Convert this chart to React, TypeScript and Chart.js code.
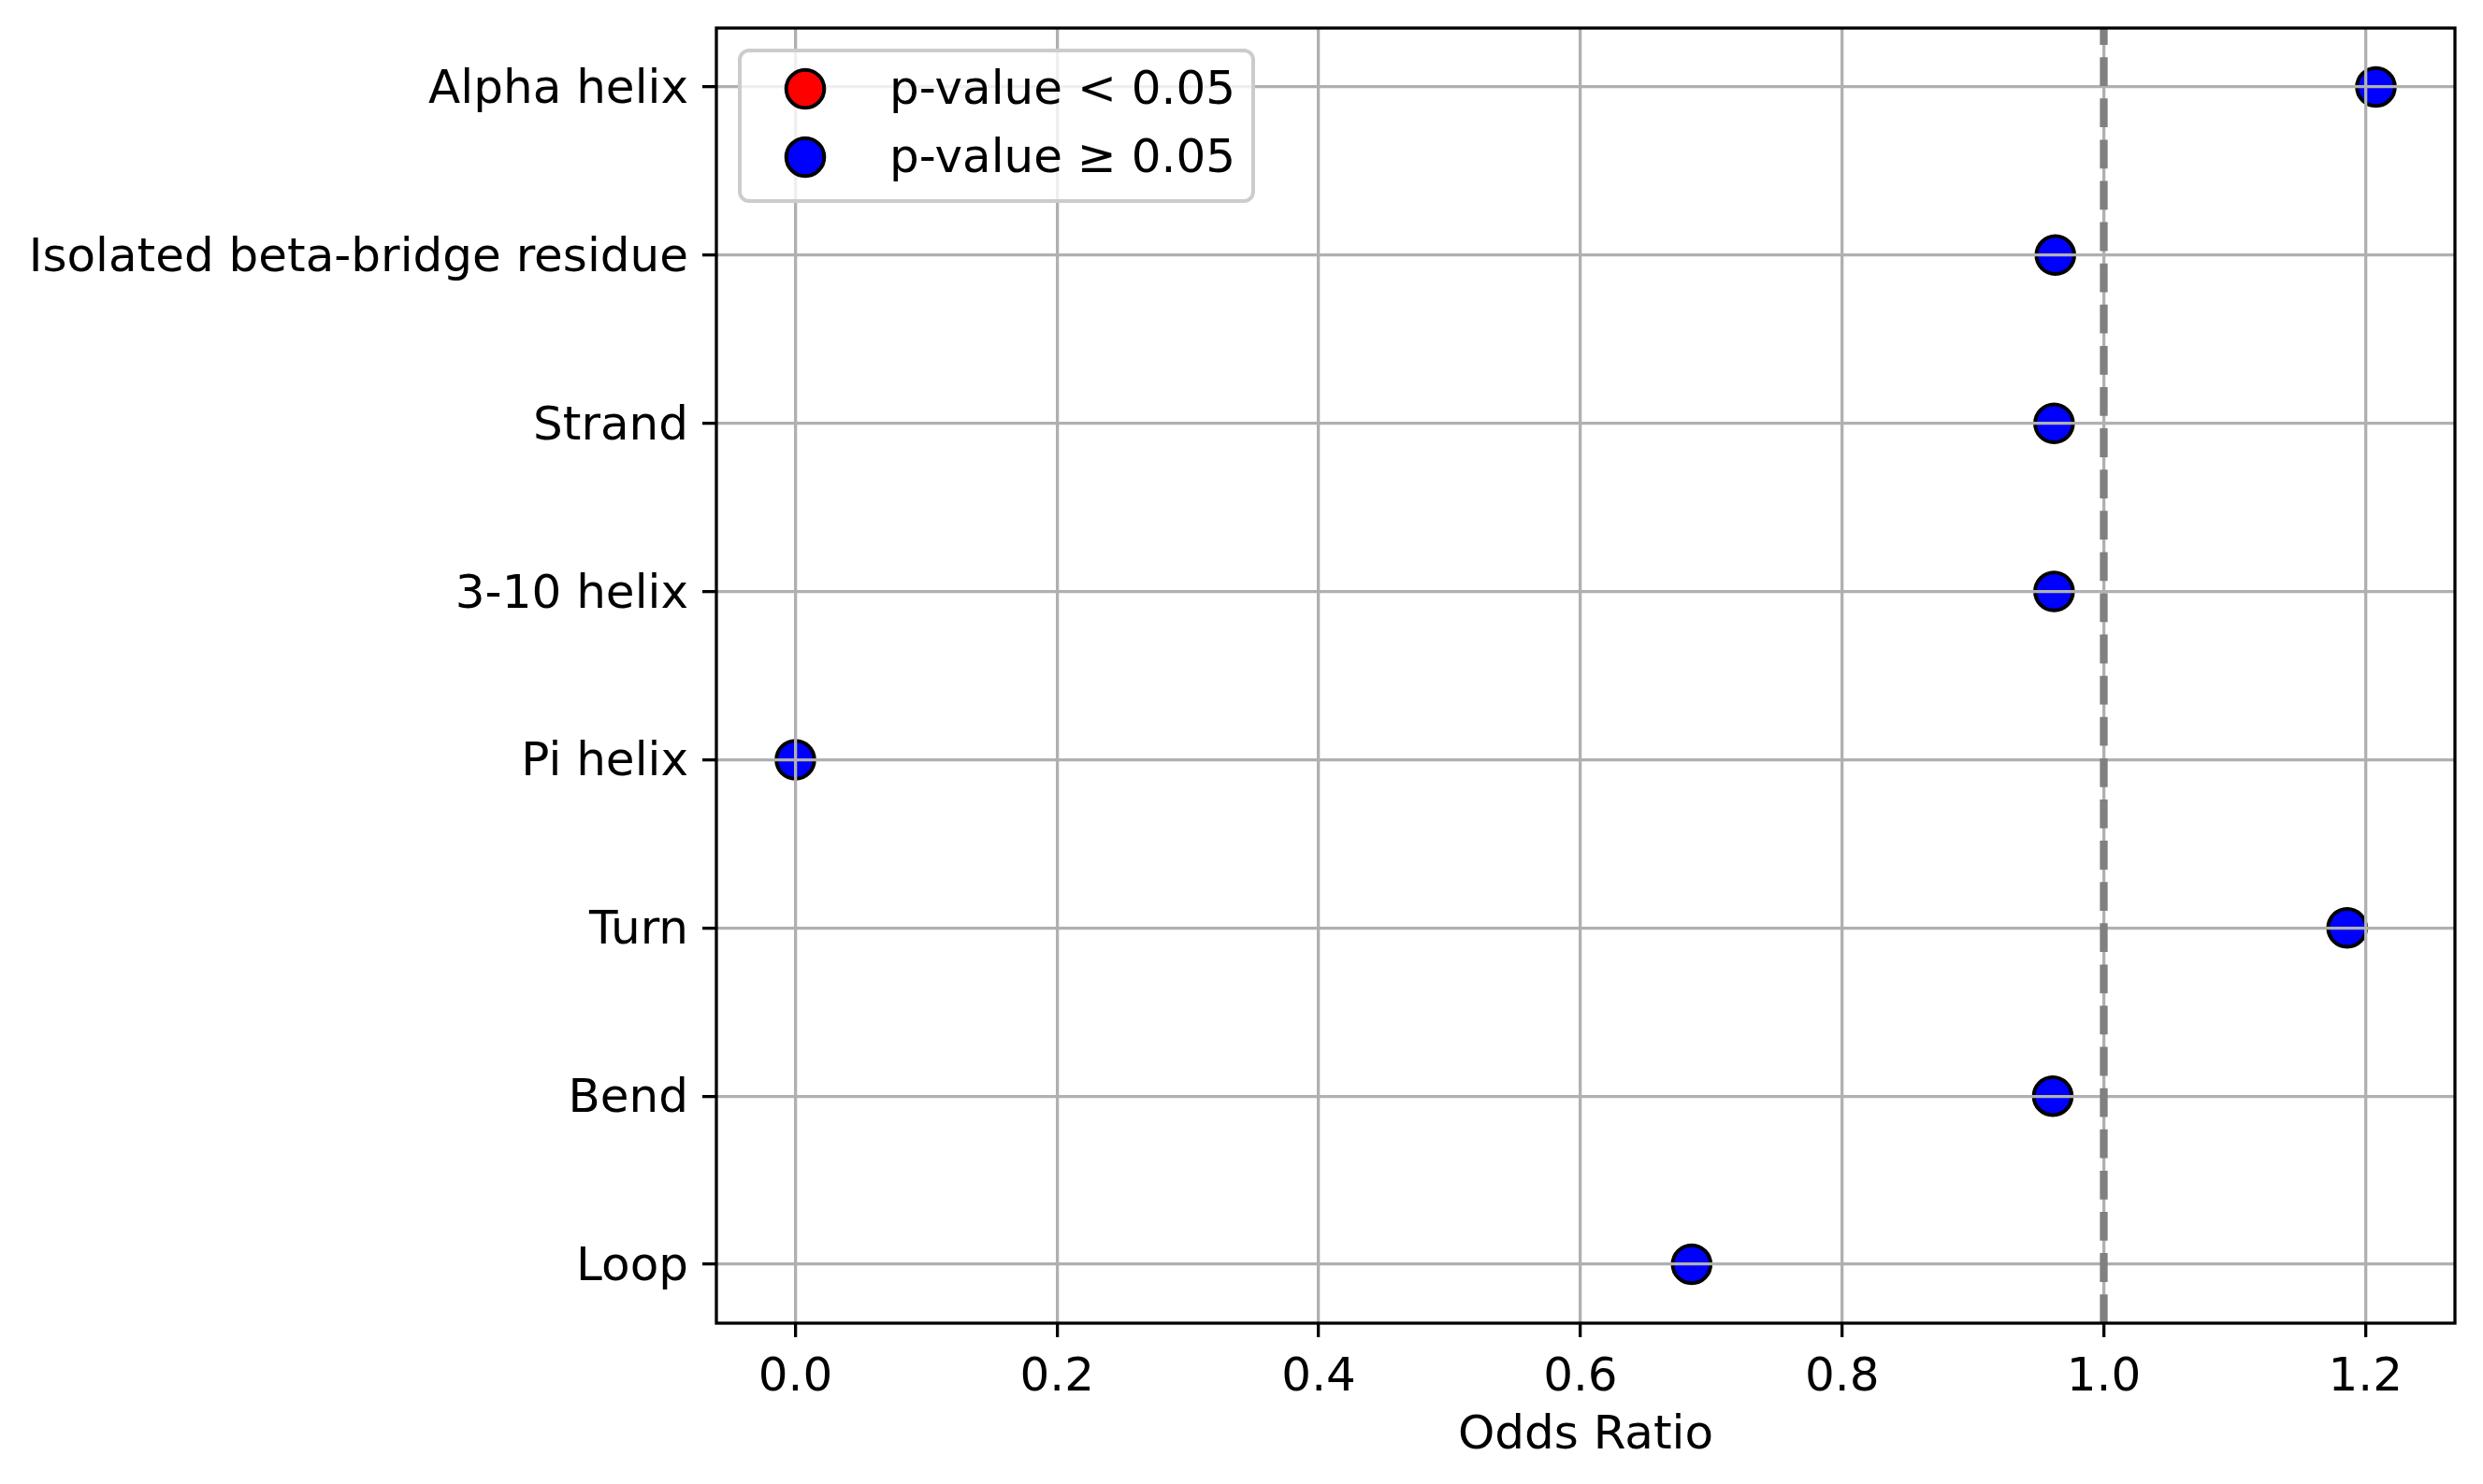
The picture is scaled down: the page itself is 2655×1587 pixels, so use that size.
import React, { useEffect, useRef } from 'react';
import { Chart, registerables, ChartConfiguration, Plugin } from 'chart.js';

Chart.register(...registerables);

// secondary structure categories, top to bottom as in the figure
const categories = [
  'Alpha helix',
  'Isolated beta-bridge residue',
  'Strand',
  '3-10 helix',
  'Pi helix',
  'Turn',
  'Bend',
  'Loop',
];
const oddsRatios = [1.208, 0.963, 0.962, 0.962, 0.0, 1.186, 0.961, 0.685];
const significant = [false, false, false, false, false, false, false, false];
const xTicks = [0, 0.2, 0.4, 0.6, 0.8, 1.0, 1.2];
const referenceLine = 1.0;
const legendLabels = ['p-value < 0.05', 'p-value \u2265 0.05'];

const FONT = { family: 'DejaVu Sans', size: 50 };
const n = categories.length;
const yPos = (i: number) => n - 1 - i;

const pointsFor = (sig: boolean) =>
  categories
    .map((_, i) => ({ x: oddsRatios[i], y: yPos(i), sig: significant[i] }))
    .filter((p) => p.sig === sig)
    .map(({ x, y }) => ({ x, y }));

const MARKER_R = 20.3;
const MARKER_BW = 4;

const overlayPlugin: Plugin<'scatter'> = {
  id: 'overlay',
  afterDraw(chart) {
    const { ctx, chartArea: a } = chart;
    const x = chart.scales.x;

    // dashed reference line at OR = 1
    const px = x.getPixelForValue(referenceLine);
    ctx.save();
    ctx.beginPath();
    ctx.rect(a.left, a.top, a.right - a.left, a.bottom - a.top);
    ctx.clip();
    ctx.strokeStyle = '#808080';
    ctx.lineWidth = 8.3;
    ctx.lineCap = 'butt';
    ctx.setLineDash([30.8, 13.3]);
    ctx.beginPath();
    ctx.moveTo(px, a.bottom);
    ctx.lineTo(px, a.top);
    ctx.stroke();
    ctx.restore();

    // axes frame
    ctx.save();
    ctx.strokeStyle = '#000';
    ctx.lineWidth = 3.3;
    ctx.strokeRect(a.left, a.top, a.right - a.left, a.bottom - a.top);
    ctx.restore();

    // legend box, upper left inside the axes
    const bx = a.left + 25;
    const by = a.top + 24;
    const bw = 549;
    const bh = 161;
    ctx.save();
    ctx.beginPath();
    ctx.roundRect(bx, by, bw, bh, 10);
    ctx.fillStyle = 'rgba(255,255,255,0.8)';
    ctx.fill();
    ctx.strokeStyle = '#cccccc';
    ctx.lineWidth = 4;
    ctx.stroke();

    chart.data.datasets.forEach((ds, i) => {
      const cy = by + 41 + i * 73;
      const cx = bx + 70;
      ctx.beginPath();
      ctx.arc(cx, cy, MARKER_R, 0, Math.PI * 2);
      ctx.fillStyle = ds.backgroundColor as string;
      ctx.fill();
      ctx.lineWidth = MARKER_BW;
      ctx.strokeStyle = '#000';
      ctx.stroke();
      ctx.fillStyle = '#000';
      ctx.font = `${FONT.size}px '${FONT.family}'`;
      ctx.textAlign = 'left';
      ctx.textBaseline = 'middle';
      ctx.fillText(legendLabels[i], bx + 160, cy + 3);
    });
    ctx.restore();
  },
};

export default function App() {
  const canvasRef = useRef<HTMLCanvasElement>(null);

  useEffect(() => {
    const canvas = canvasRef.current;
    if (!canvas) return;

    const config: ChartConfiguration<'scatter'> = {
      type: 'scatter',
      data: {
        datasets: [
          {
            label: legendLabels[0],
            data: pointsFor(true),
            backgroundColor: '#ff0000',
            borderColor: '#000',
            borderWidth: MARKER_BW,
            pointRadius: MARKER_R,
            pointHoverRadius: MARKER_R,
          },
          {
            label: legendLabels[1],
            data: pointsFor(false),
            backgroundColor: '#0000ff',
            borderColor: '#000',
            borderWidth: MARKER_BW,
            pointRadius: MARKER_R,
            pointHoverRadius: MARKER_R,
          },
        ],
      },
      options: {
        responsive: false,
        devicePixelRatio: 1,
        animation: false,
        layout: { padding: { top: 30, right: 30, left: 0, bottom: 0 } },
        plugins: {
          legend: { display: false },
          tooltip: { enabled: false },
        },
        scales: {
          x: {
            type: 'linear',
            min: -0.0604,
            max: 1.2684,
            afterBuildTicks: (s) => {
              s.ticks = xTicks.map((v) => ({ value: v }));
            },
            afterFit: (s) => {
              s.height = 172;
              s.paddingLeft = 0;
              s.paddingRight = 0;
            },
            grid: {
              color: '#b0b0b0',
              lineWidth: 3.3,
              z: 1,
              tickLength: 15,
              tickColor: '#000',
              tickWidth: 3.3,
            },
            border: { display: false },
            ticks: {
              color: '#000',
              font: FONT,
              padding: 14,
              maxRotation: 0,
              autoSkip: false,
              callback: (v) => Number(v).toFixed(1),
            },
            title: {
              display: true,
              text: 'Odds Ratio',
              color: '#000',
              font: FONT,
              padding: { top: 0, bottom: 21 },
            },
          },
          y: {
            type: 'linear',
            min: -0.35,
            max: n - 1 + 0.35,
            afterBuildTicks: (s) => {
              s.ticks = categories.map((_, i) => ({ value: i }));
            },
            afterFit: (s) => {
              s.width = 766;
              s.paddingTop = 0;
              s.paddingBottom = 0;
            },
            grid: {
              color: '#b0b0b0',
              lineWidth: 3.3,
              z: 1,
              tickLength: 15,
              tickColor: '#000',
              tickWidth: 3.3,
            },
            border: { display: false },
            ticks: {
              color: '#000',
              font: FONT,
              padding: 15,
              labelOffset: 4,
              autoSkip: false,
              callback: (v) => categories[n - 1 - Number(v)],
            },
          },
        },
      },
      plugins: [overlayPlugin],
    };

    const chart = new Chart(canvas, config);
    return () => chart.destroy();
  }, []);

  return (
    <div style={{ position: 'absolute', left: 0, top: 0, width: 2655, height: 1587, background: '#fff' }}>
      <canvas ref={canvasRef} width={2655} height={1587} style={{ width: 2655, height: 1587 }} />
    </div>
  );
}
